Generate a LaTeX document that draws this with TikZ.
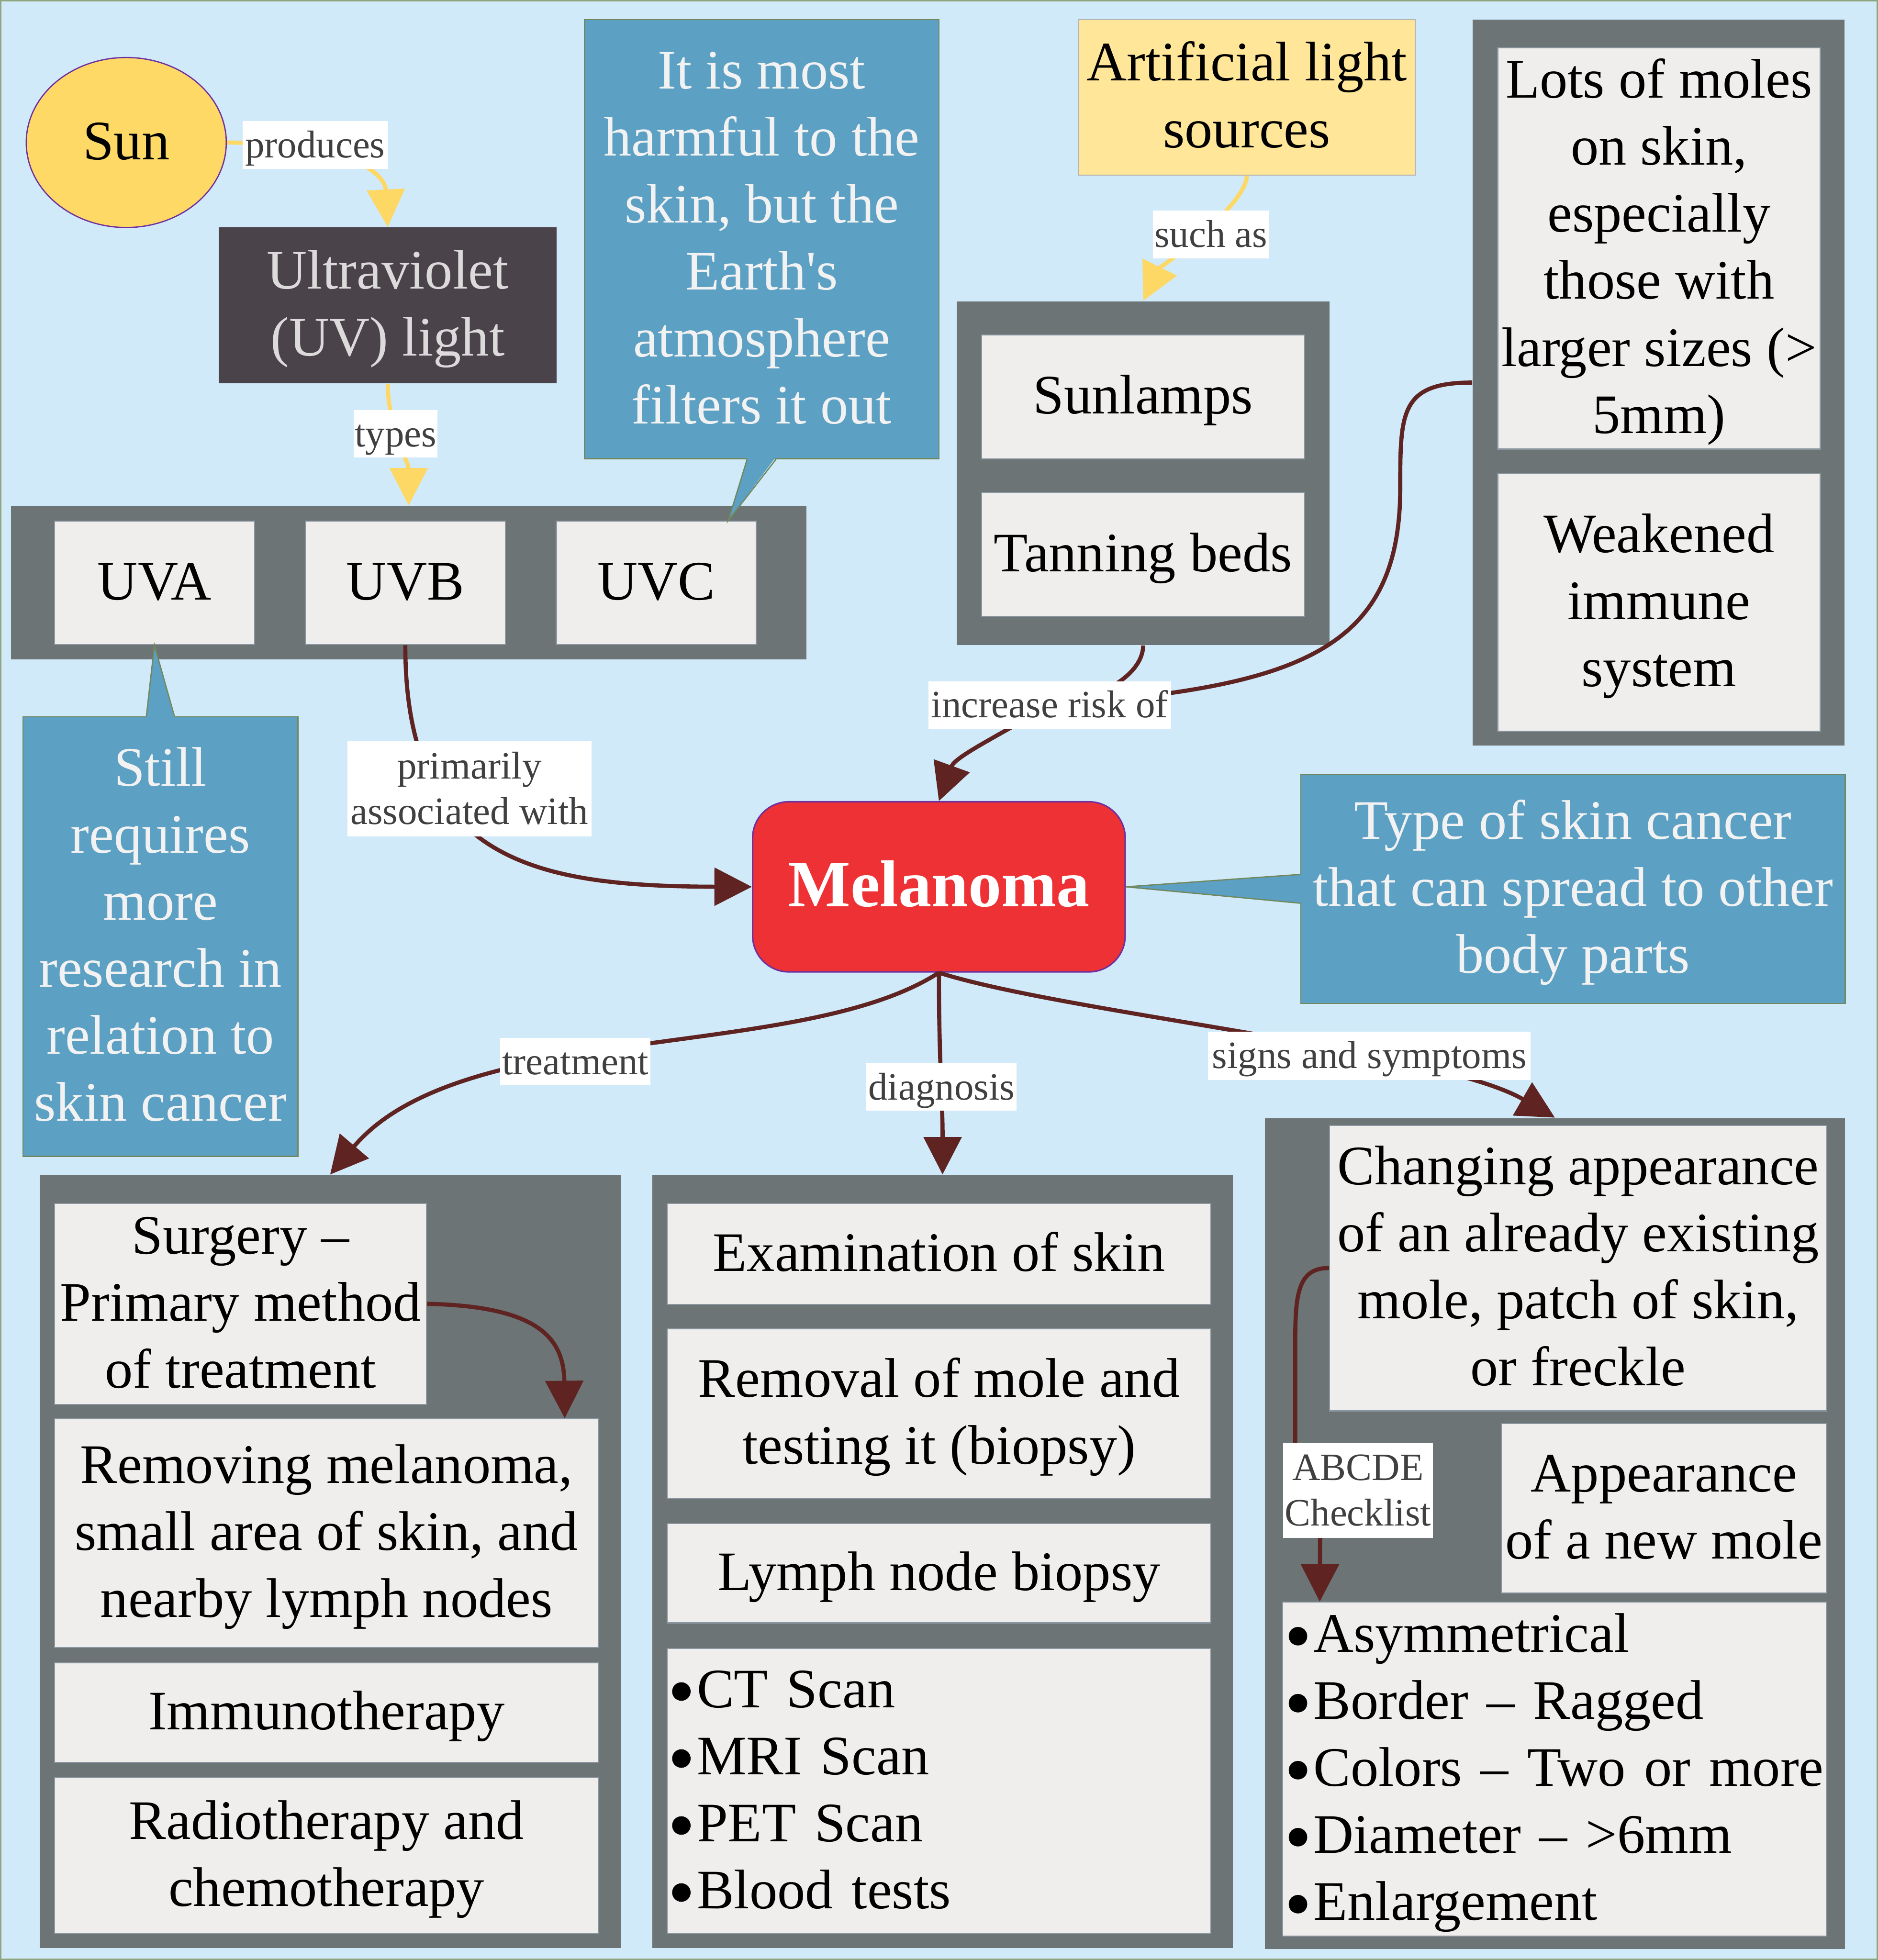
\documentclass[tikz,border=0pt]{standalone}
\usepackage{fontspec}
\setmainfont{Liberation Serif}
\usetikzlibrary{arrows.meta,shapes.geometric}
\definecolor{skyback}{HTML}{D0EAF9}
\definecolor{framecol}{HTML}{8FA57E}
\definecolor{grpgray}{HTML}{6C7476}
\definecolor{itemfill}{HTML}{F0EDED}
\definecolor{itemline}{HTML}{8996A0}
\definecolor{noteblue}{HTML}{5CA0C3}
\definecolor{noteline}{HTML}{71885F}
\definecolor{notetext}{HTML}{F2F2F2}
\definecolor{uvdark}{HTML}{4A434A}
\definecolor{uvtext}{HTML}{DCDADA}
\definecolor{sunfill}{HTML}{FED966}
\definecolor{lampfill}{HTML}{FFE699}
\definecolor{melred}{HTML}{EE3135}
\definecolor{edgepurple}{HTML}{7030A0}
\definecolor{linkbrown}{HTML}{5F2422}
\definecolor{linkyellow}{HTML}{FDD865}
\definecolor{tagtext}{HTML}{404040}
\newcommand\itemsize{\fontsize{22.3pt}{26.8pt}\selectfont}
\newcommand\tagsize{\fontsize{15.5pt}{18.3pt}\selectfont}
\newcommand\itemstrut{\rule[-6.4pt]{0pt}{26.4pt}}
\newcommand\tagstrut{\rule[-4.4pt]{0pt}{19pt}}
\newcommand\melstrut{\rule[-8.1pt]{0pt}{32pt}}
\newcommand\blob{\tikz[baseline=0pt]{\useasboundingbox (0pt,0pt) rectangle (9.9pt,0pt); \fill (3.7pt,6.4pt) circle[radius=3.7pt];}}
\begin{document}
\begin{tikzpicture}[x=0.5pt,y=-0.5pt,
  >={Triangle[length=15pt,width=15pt]},
  grpbox/.style={fill=grpgray,inner sep=0pt},
  itembox/.style={fill=itemfill,draw=itemline,line width=0.4pt,inner sep=0pt,align=center,font=\itemsize,
    execute at begin node=\itemstrut,execute at end node=\itemstrut},
  notebox/.style={fill=noteblue,draw=noteline,line width=0.5pt,inner sep=0pt,align=center,text=notetext,font=\itemsize,
    execute at begin node=\itemstrut,execute at end node=\itemstrut},
  notetip/.style={fill=noteblue},
  noteedge/.style={draw=noteline,line width=0.5pt},
  tagbox/.style={fill=white,inner sep=0pt,align=center,text=tagtext,font=\tagsize,
    execute at begin node=\tagstrut,execute at end node=\tagstrut},
  linkline/.style={draw=linkbrown,line width=1.65pt},
  sunline/.style={draw=linkyellow,line width=1.65pt}]
\useasboundingbox (0,0) rectangle (1502,1568);
\fill[skyback] (0,0) rectangle (1502,1568);
\draw[framecol,line width=0.6pt] (0.6,0.6) rectangle (1501.4,1567.4);

\node[ellipse,fill=sunfill,draw=edgepurple,line width=0.5pt,minimum width=80pt,minimum height=68pt,inner sep=0pt,font=\itemsize] (sun) at (101,114) {\itemstrut Sun};
\node[fill=uvdark,text=uvtext,minimum width=135.15pt,minimum height=62.3pt,inner sep=0pt,align=center,font=\itemsize] (uv) at (310.15,244.3) {\itemstrut Ultraviolet\\(UV) light\itemstrut};

\node[grpbox,minimum width=318.1pt,minimum height=61.45pt] (uvgrp) at (326.9,466.25) {};
\node[itembox,minimum width=80pt,minimum height=49.5pt] (uva) at (123.5,466.3) {UVA};
\node[itembox,minimum width=80pt,minimum height=49.5pt] (uvb) at (324.2,466.3) {UVB};
\node[itembox,minimum width=80pt,minimum height=49.5pt] (uvc) at (525,466.3) {UVC};

\node[notebox,minimum width=141.75pt,minimum height=175.65pt] (harm) at (609.25,191.35) {\itemstrut It is most\\harmful to the\\skin, but the\\Earth\textquotesingle s\\atmosphere\\filters it out};
\fill[notetip] ([xshift=-5.8pt,yshift=1pt]harm.south) -- ([xshift=28.75pt]uvc.north) -- ([xshift=5.7pt,yshift=1pt]harm.south) -- cycle;
\draw[noteedge] ([xshift=-5.8pt]harm.south) -- ([xshift=28.75pt]uvc.north) -- ([xshift=5.7pt]harm.south);

\node[notebox,minimum width=109.9pt,minimum height=175.85pt] (still) at (128.3,749.25) {\itemstrut Still\\requires\\more\\research in\\relation to\\skin cancer};
\fill[notetip] ([xshift=-5.6pt,yshift=-1pt]still.north) -- (uva.south) -- ([xshift=5.6pt,yshift=-1pt]still.north) -- cycle;
\draw[noteedge] ([xshift=-5.6pt]still.north) -- (uva.south) -- ([xshift=5.6pt]still.north);

\node[fill=lampfill,draw=gray!60,line width=0.4pt,minimum width=134.55pt,minimum height=62.15pt,inner sep=0pt,align=center,font=\itemsize] (artif) at (997.25,77.85) {\itemstrut Artificial light\\sources\itemstrut};

\node[grpbox,minimum width=149pt,minimum height=137.5pt] (lampgrp) at (914.4,378.5) {};
\node[itembox,minimum width=129.25pt,minimum height=49.5pt] (sunlamps) at (914.25,317.5) {Sunlamps};
\node[itembox,minimum width=129.25pt,minimum height=49.5pt] (tanning) at (914.25,443.5) {Tanning beds};

\node[grpbox,minimum width=148.75pt,minimum height=290.45pt] (riskgrp) at (1326.75,306.05) {};
\node[itembox,minimum width=129pt,minimum height=159.85pt] (moles) at (1327,198.85) {\itemstrut Lots of moles\\on skin,\\especially\\those with\\larger sizes (>\\5mm)};
\node[itembox,minimum width=129pt,minimum height=103pt] (immune) at (1327,482) {\itemstrut Weakened\\immune\\system};

\node[fill=melred,draw=edgepurple,line width=0.6pt,rounded corners=14.5pt,minimum width=149pt,minimum height=68.05pt,inner sep=0pt,text=white,font=\fontsize{26.5pt}{32pt}\selectfont\bfseries] (mel) at (751,709.45) {\melstrut Melanoma};

\node[notebox,minimum width=217.65pt,minimum height=91.65pt] (kind) at (1258.15,711.15) {\itemstrut Type of skin cancer\\that can spread to other\\body parts};
\fill[notetip] ([yshift=5.8pt,xshift=1pt]kind.west) -- (mel.east) -- ([yshift=-5.7pt,xshift=1pt]kind.west) -- cycle;
\draw[noteedge] ([yshift=5.8pt]kind.west) -- (mel.east) -- ([yshift=-5.7pt]kind.west);

\node[grpbox,minimum width=232.35pt,minimum height=309.3pt] (trtgrp) at (264.05,1249.3) {};
\node[itembox,minimum width=148.75pt,minimum height=80.35pt] (surgery) at (192.45,1043.05) {\itemstrut Surgery –\\Primary method\\of treatment};
\node[itembox,minimum width=217.45pt,minimum height=91.5pt] (removing) at (261.15,1226.5) {\itemstrut Removing melanoma,\\small area of skin, and\\nearby lymph nodes};
\node[itembox,minimum width=217.45pt,minimum height=39.85pt] (immuno) at (261.15,1370.15) {Immunotherapy};
\node[itembox,minimum width=217.45pt,minimum height=62.5pt] (radio) at (261.15,1484.5) {\itemstrut Radiotherapy and\\chemotherapy};

\node[grpbox,minimum width=232.3pt,minimum height=309.3pt] (dxgrp) at (753.9,1249.3) {};
\node[itembox,minimum width=217.5pt,minimum height=40.5pt] (exam) at (751.1,1003.2) {Examination of skin};
\node[itembox,minimum width=217.5pt,minimum height=67.7pt] (removal) at (751.1,1130.9) {\itemstrut Removal of mole and\\testing it (biopsy)};
\node[itembox,minimum width=217.5pt,minimum height=39.7pt] (lymph) at (751.1,1258.6) {Lymph node biopsy};
\node[itembox,align=left,inner xsep=2pt,text width=213.5pt,minimum height=114.2pt] (scans) at (751.1,1432.8) {\itemstrut\blob CT Scan\\\blob MRI Scan\\\blob PET Scan\\\blob Blood tests};

\node[grpbox,minimum width=232.1pt,minimum height=332.4pt] (sxgrp) at (1243.7,1226.9) {};
\node[itembox,minimum width=198.9pt,minimum height=114.25pt] (changing) at (1262.3,1014.45) {\itemstrut Changing appearance\\of an already existing\\mole, patch of skin,\\or freckle};
\node[itembox,minimum width=130pt,minimum height=67.75pt] (newmole) at (1331,1206.55) {\itemstrut Appearance\\of a new mole};
\node[itembox,align=left,inner xsep=2.4pt,text width=212.7pt,minimum height=131.05pt] (abcde) at (1243.5,1415.35) {\itemstrut\blob Asymmetrical\\\blob Border – Ragged\\\blob\mbox{Colors – Two or more}\\\blob Diameter – >6mm\\\blob Enlargement};

\draw[sunline,->] (sun.east) .. controls (285,115) and (308,140) .. (uv.north);
\draw[sunline,->] (uv.south) .. controls (310,340) and (326.9,370) .. (uvgrp.north);
\draw[sunline,->] (artif.south) .. controls (997,165) and (927,215) .. (lampgrp.north);

\coordinate (riskpt) at (839.6,564);
\draw[linkline] (lampgrp.south) .. controls (914,540) and (880,560) .. (riskpt);
\draw[linkline] (riskgrp.west) .. controls (1120,306) and (1120,330) .. (1120,390) .. controls (1120,520) and (1040,550) .. (riskpt);
\draw[linkline,->] (riskpt) .. controls (800,588) and (764,605) .. (mel.north);
\draw[linkline,->] (uvb.south) .. controls (324,690) and (430,709) .. (mel.west);
\draw[linkline,->] (mel.south) .. controls (640,850) and (370,815) .. (trtgrp.north);
\draw[linkline,->] (mel.south) .. controls (751,850) and (754,880) .. (dxgrp.north);
\draw[linkline,->] (mel.south) .. controls (850,810) and (1150,840) .. (sxgrp.north);
\draw[linkline,->] (surgery.east) .. controls (430,1045) and (451,1070) .. ([xshift=-13.65pt]removing.north east);
\draw[linkline,->] (changing.west) .. controls (1036,1014) and (1036,1040) .. (1036,1080) -- (1036,1170) -- (1056,1215) -- ([xshift=15pt]abcde.north west);

\node[tagbox,minimum width=58pt,minimum height=19pt] (produces) at (252,116) {produces};
\node[tagbox,minimum width=33.5pt,minimum height=19pt] (types) at (316.5,347) {types};
\node[tagbox,minimum width=46.5pt,minimum height=19pt] (suchas) at (968.6,187.6) {such as};
\node[tagbox,minimum width=97.5pt,minimum height=38pt] (assoc) at (375.5,631) {\tagstrut primarily\\associated with};
\node[tagbox,minimum width=97pt,minimum height=19pt] (risk) at (riskpt) {increase risk of};
\node[tagbox,minimum width=60pt,minimum height=19pt] (trtlbl) at (460.2,849.3) {treatment};
\node[tagbox,minimum width=60pt,minimum height=19pt] (dxlbl) at (753,869.5) {diagnosis};
\node[tagbox,minimum width=129pt,minimum height=19.25pt] (sxlbl) at (1095.3,844.6) {signs and symptoms};
\node[tagbox,minimum width=60pt,minimum height=38pt] (abclbl) at (1086.2,1192.2) {\tagstrut ABCDE\\Checklist};
\end{tikzpicture}
\end{document}
